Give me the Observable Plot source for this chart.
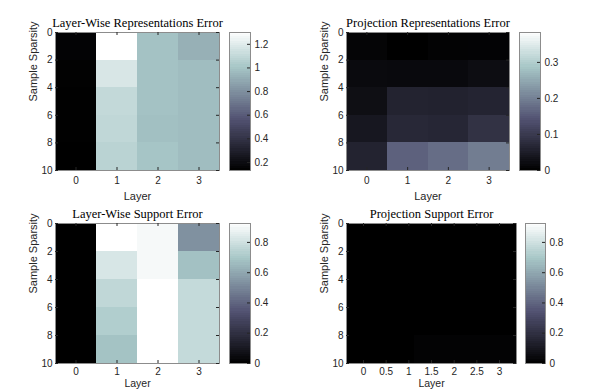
<!DOCTYPE html>
<html><head><meta charset="utf-8">
<script src="https://cdn.jsdelivr.net/npm/d3@7"></script>
<script src="https://cdn.jsdelivr.net/npm/@observablehq/plot@0.6"></script>
<style>
body{margin:0;background:#fff}
#c{position:relative;width:598px;height:389px;overflow:hidden;background:#fff}
#c svg{position:absolute;left:0;top:0}
</style>
</head><body><div id="c"></div>
<script>
// ---- data ----
const layers = [0, 1, 2, 3];
const layersProj = [0, 0.75, 1.5, 2.25, 3];
const sparsityRows = [1, 3, 5, 7, 9];
const rowHeight = 2;

const titles = ["Layer-Wise Representations Error", "Projection Representations Error",
                "Layer-Wise Support Error", "Projection Support Error"];
const xLabel = "Layer";
const yLabel = "Sample Sparsity";

// rows: sparsity 0-2, 2-4, 4-6, 6-8, 8-10 ; columns: layers
const lwRep = [
  [0.150, 1.300, 0.990, 0.920],
  [0.140, 1.170, 0.990, 0.970],
  [0.135, 1.100, 0.990, 0.970],
  [0.135, 1.090, 0.980, 0.970],
  [0.132, 1.070, 1.000, 0.970]
];
const projRep = [
  [0.008, 0.000, 0.005, 0.006],
  [0.018, 0.016, 0.016, 0.022],
  [0.025, 0.060, 0.058, 0.062],
  [0.040, 0.068, 0.066, 0.085],
  [0.060, 0.160, 0.175, 0.195]
];
const lwSup = [
  [0, 0.925, 0.900, 0.530],
  [0, 0.820, 0.900, 0.675],
  [0, 0.760, 0.925, 0.770],
  [0, 0.720, 0.925, 0.770],
  [0, 0.680, 0.925, 0.770]
];
const projSup = [
  [0, 0, 0, 0, 0],
  [0, 0, 0, 0, 0],
  [0, 0, 0, 0, 0],
  [0, 0, 0, 0, 0],
  [0, 0, 0.012, 0.012, 0.012]
];

const colorDomains = [[0.132, 1.30], [0, 0.383], [0, 0.925], [0, 0.925]];
const yTicks = [0, 2, 4, 6, 8, 10];
const xTicks = [0, 1, 2, 3];
const xTicksProj = [0, 0.5, 1, 1.5, 2, 2.5, 3];
const cbTicks = [
  [0.2, 0.4, 0.6, 0.8, 1, 1.2],
  [0, 0.1, 0.2, 0.3],
  [0, 0.2, 0.4, 0.6, 0.8],
  [0, 0.2, 0.4, 0.6, 0.8]
];

// ---- MATLAB "bone" colormap ----
function bone(t) {
  t = Math.max(0, Math.min(1, t));
  const r = (7 * t + (t < 0.75 ? 0 : (t - 0.75) / 0.25)) / 8;
  const g = (7 * t + (t < 0.375 ? 0 : t < 0.75 ? (t - 0.375) / 0.375 : 1)) / 8;
  const b = (7 * t + (t < 0.375 ? t / 0.375 : 1)) / 8;
  return `rgb(${Math.round(r * 255)},${Math.round(g * 255)},${Math.round(b * 255)})`;
}

const W = 598, H = 389;
const INK = "#262626", FRAME = "#8c8c8c";
const sans = "'Liberation Sans', Arial, Helvetica, sans-serif";
const serif = "'Liberation Serif', 'Times New Roman', serif";
const container = document.getElementById("c");

function heatmap({title, values, cols, xDomain, ticksX, box, cDomain, bottomRow}) {
  const colW = cols.length > 1 ? cols[1] - cols[0] : 1;
  const cells = [];
  values.forEach((row, i) => row.forEach((v, j) => cells.push({x: cols[j], y: sparsityRows[i], v})));
  const [L, T, R, B] = box;
  const pw = R - L, ph = B - T;
  const xLabelMark = bottomRow
    ? Plot.text([xLabel], {text: d => d, frameAnchor: "bottom", lineAnchor: "bottom", dy: H - B - 3, fontSize: 10.5, fill: INK})
    : Plot.text([xLabel], {text: d => d, frameAnchor: "bottom", lineAnchor: "middle", dy: 25.5, fontSize: 11, fill: INK});
  const marks = [
    Plot.rect(cells, {x1: d => d.x - colW / 2, x2: d => d.x + colW / 2,
      y1: d => d.y - rowHeight / 2, y2: d => d.y + rowHeight / 2, fill: "v", shapeRendering: "crispEdges"}),
    Plot.frame({stroke: FRAME}),
    Plot.ruleX(ticksX, {insetTop: ph - 3, stroke: INK}),
    Plot.ruleX(ticksX, {insetBottom: ph - 3, stroke: INK}),
    Plot.ruleY(yTicks, {insetRight: pw - 3, stroke: INK}),
    Plot.ruleY(yTicks, {insetLeft: pw - 3, stroke: INK}),
    Plot.axisX(ticksX, {tickSize: 0, tickPadding: bottomRow ? 4 : 6, label: null, tickFormat: d => String(d)}),
    Plot.axisY(yTicks, {tickSize: 0, tickPadding: 3, label: null, tickFormat: d => String(d)}),
    Plot.text([title], {text: d => d, frameAnchor: "top", lineAnchor: "middle", dy: -10,
      fontFamily: serif, fontSize: 12.5, fill: "#000"}),
    Plot.text([yLabel], {text: d => d, frameAnchor: "left", lineAnchor: "middle", dx: -22, rotate: -90, fontSize: 11, fill: INK}),
    xLabelMark
  ];
  return Plot.plot({
    width: W, height: H,
    marginLeft: L, marginRight: W - R, marginTop: T, marginBottom: H - B,
    x: {domain: xDomain},
    y: {domain: [0, 10], reverse: true},
    color: {type: "linear", domain: cDomain, interpolate: bone},
    style: {fontFamily: sans, fontSize: "10px", color: INK, background: "transparent", overflow: "visible"},
    marks
  });
}

function colorbar({cDomain, ticks, box}) {
  const [lo, hi] = cDomain;
  const n = 64;
  const levels = d3.range(n).map(i => ({
    y1: lo + i * (hi - lo) / n, y2: lo + (i + 1) * (hi - lo) / n, v: lo + (i + 0.5) * (hi - lo) / n
  }));
  const [L, T, R, B] = box;
  const pw = R - L;
  return Plot.plot({
    width: W, height: H,
    marginLeft: L, marginRight: W - R, marginTop: T, marginBottom: H - B,
    x: {domain: [0, 1], axis: null},
    y: {domain: [lo, hi]},
    color: {type: "linear", domain: cDomain, interpolate: bone},
    style: {fontFamily: sans, fontSize: "10px", color: INK, background: "transparent"},
    marks: [
      Plot.rect(levels, {x1: 0, x2: 1, y1: "y1", y2: "y2", fill: "v", shapeRendering: "crispEdges"}),
      Plot.frame({stroke: FRAME}),
      Plot.ruleY(ticks, {insetLeft: pw - 3, stroke: INK}),
      Plot.axisY(ticks, {anchor: "right", tickSize: 0, tickPadding: 4, label: null, tickFormat: d => String(d)})
    ]
  });
}

const panels = [
  {values: lwRep, cols: layers, xDomain: [-0.5, 3.5], ticksX: xTicks, box: [55, 32, 219, 170], cb: [229, 32, 250, 170], bottomRow: false},
  {values: projRep, cols: layers, xDomain: [-0.5, 3.5], ticksX: xTicks, box: [346, 32, 509, 170], cb: [519, 32, 540, 170], bottomRow: false},
  {values: lwSup, cols: layers, xDomain: [-0.5, 3.5], ticksX: xTicks, box: [55, 223, 219, 363], cb: [229, 223, 250, 363], bottomRow: true},
  {values: projSup, cols: layersProj, xDomain: [-0.375, 3.375], ticksX: xTicksProj, box: [346, 223, 516, 363], cb: [525, 223, 545, 363], bottomRow: true}
];

panels.forEach((p, i) => {
  container.appendChild(heatmap({title: titles[i], values: p.values, cols: p.cols, xDomain: p.xDomain,
    ticksX: p.ticksX, box: p.box, cDomain: colorDomains[i], bottomRow: p.bottomRow}));
  container.appendChild(colorbar({cDomain: colorDomains[i], ticks: cbTicks[i], box: p.cb}));
});
</script>
</body></html>
